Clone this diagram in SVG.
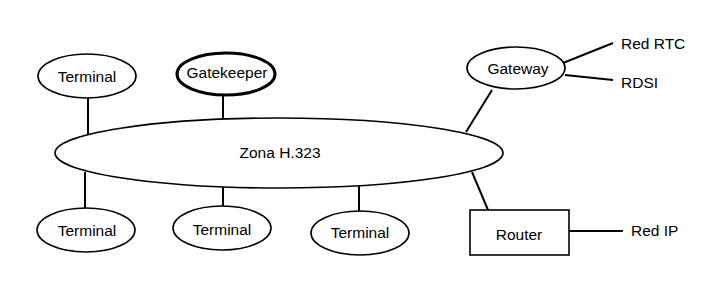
<svg xmlns="http://www.w3.org/2000/svg" width="724" height="292" viewBox="0 0 724 292">
<style>
.n{fill:#fff;stroke:#000;stroke-width:1.6}
.gk{fill:#fff;stroke:#000;stroke-width:3}
.c{stroke:#000;stroke-width:2;fill:none}
text{font-family:"Liberation Sans",Arial,sans-serif;font-size:15.5px;fill:#000}
.m{text-anchor:middle}
</style>
<rect width="724" height="292" fill="#fff"/>
<g id="connectors">
<line class="c" x1="88" y1="98" x2="88" y2="134"/>
<line class="c" x1="223" y1="95" x2="223" y2="120"/>
<line class="c" x1="492" y1="90" x2="466" y2="132"/>
<line class="c" x1="563" y1="63" x2="613" y2="43"/>
<line class="c" x1="565" y1="75" x2="613" y2="80"/>
<line class="c" x1="85" y1="172" x2="85" y2="208"/>
<line class="c" x1="223" y1="187" x2="223" y2="206"/>
<line class="c" x1="359" y1="186" x2="359" y2="212"/>
<line class="c" x1="472" y1="172" x2="488" y2="210"/>
<line class="c" x1="569" y1="231" x2="623" y2="231"/>
</g>
<g id="zona">
<ellipse class="n" cx="279" cy="153" rx="224" ry="35"/>
<text class="m" x="280" y="158">Zona H.323</text>
</g>
<g id="terminal1">
<ellipse class="n" cx="87" cy="76" rx="49" ry="22"/>
<text class="m" x="87" y="82">Terminal</text>
</g>
<g id="gatekeeper">
<ellipse class="gk" cx="226" cy="74" rx="49" ry="21"/>
<text class="m" x="227" y="78">Gatekeeper</text>
</g>
<g id="gateway">
<ellipse class="n" cx="516" cy="68" rx="49" ry="21"/>
<text class="m" x="518" y="74">Gateway</text>
</g>
<g id="redrtc"><text x="621" y="49">Red RTC</text></g>
<g id="rdsi"><text x="621" y="88">RDSI</text></g>
<g id="terminal2">
<ellipse class="n" cx="86" cy="230" rx="49" ry="22"/>
<text class="m" x="87" y="236">Terminal</text>
</g>
<g id="terminal3">
<ellipse class="n" cx="222" cy="228" rx="49" ry="22"/>
<text class="m" x="222" y="235">Terminal</text>
</g>
<g id="terminal4">
<ellipse class="n" cx="360" cy="233" rx="49" ry="22"/>
<text class="m" x="360" y="238">Terminal</text>
</g>
<g id="router">
<rect class="n" x="470" y="210" width="99" height="45" stroke-width="2"/>
<text class="m" x="519" y="240">Router</text>
</g>
<g id="redip"><text x="631" y="236">Red IP</text></g>
</svg>
